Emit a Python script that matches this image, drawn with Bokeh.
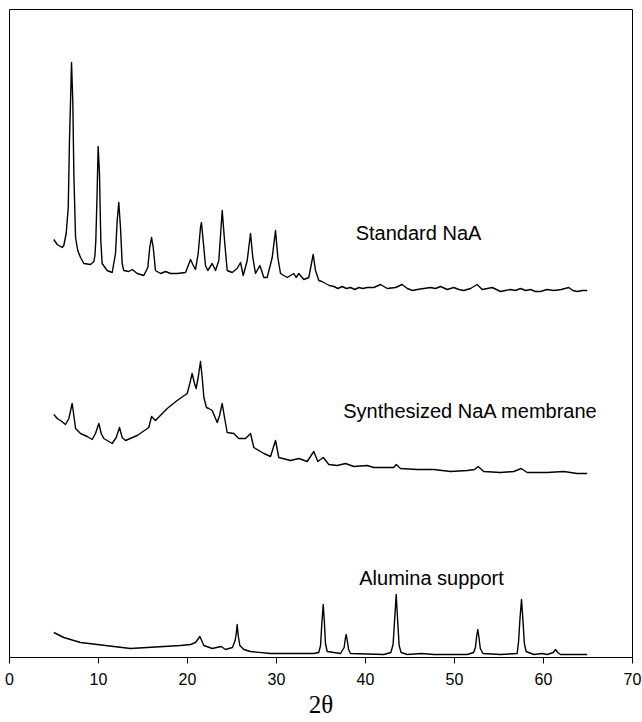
from bokeh.plotting import figure
from bokeh.models import Range1d, Label, FixedTicker
from bokeh.embed import file_html
from bokeh.resources import INLINE

# XRD patterns (2-theta in degrees, intensity in arbitrary units, traces stacked)
std_theta = [4.98, 5.36, 5.92, 6.10, 6.37, 6.60, 6.74, 6.89, 6.97, 7.11, 7.23, 7.42, 7.67, 7.98,
             8.35, 9.10, 9.48, 9.60, 9.70, 9.85, 9.96, 10.11, 10.26, 10.41, 10.97, 11.54, 11.91, 12.10,
             12.28, 12.47, 12.66, 12.84, 13.40, 13.79, 14.35, 15.09, 15.54, 15.76, 15.96, 16.15,
             16.40, 16.97, 17.53, 18.09, 18.84, 19.78, 20.34, 20.60, 20.90, 21.20, 21.46, 21.57,
             21.76, 22.02, 22.28, 22.78, 23.15, 23.52, 23.90, 24.16, 24.46, 25.02, 25.58, 25.96,
             26.26, 26.71, 27.08, 27.34, 27.64, 28.13, 28.58, 28.95, 29.52, 29.89, 30.15, 30.45,
             31.20, 31.94, 32.21, 32.51, 33.07, 33.63, 34.12, 34.38, 34.76, 35.10, 35.51, 35.95,
             36.44, 36.90, 37.38, 37.85, 38.31, 38.80, 39.25, 39.70, 40.19, 40.93, 41.69, 42.44,
             43.37, 44.12, 44.69, 45.30, 45.81, 46.55, 47.30, 47.87, 48.43, 49.18, 49.92, 50.50,
             51.04, 51.80, 52.55, 53.11, 53.70, 54.24, 54.70, 55.17, 55.70, 56.29, 56.85, 57.42,
             58.00, 58.54, 59.10, 59.66, 60.40, 61.16, 62.00, 62.84, 63.30, 63.79, 64.35, 64.91]
std_counts = [418, 413, 410, 412, 424, 450, 517, 567, 595, 557, 484, 420, 407, 400,
              394, 393, 396, 402, 417, 467, 511, 484, 417, 394, 387, 385, 404, 437,
              455, 430, 394, 387, 386, 388, 384, 382, 390, 410, 420, 410,
              387, 384, 386, 384, 384, 385, 398, 393, 388, 404, 430, 435,
              417, 392, 387, 394, 387, 397, 447, 417, 387, 385, 389, 395,
              382, 397, 424, 400, 384, 392, 380, 380, 400, 427, 400, 384,
              380, 384, 380, 384, 378, 380, 403, 387, 377, 376, 374, 372,
              371, 369, 371, 369, 370, 368, 370, 369, 370, 370, 373, 369,
              370, 373, 369, 367, 368, 369, 370, 369, 371, 368, 370, 368,
              367, 369, 373, 368, 369, 370, 368, 366, 367, 368, 367, 369,
              367, 368, 366, 366, 368, 367, 368, 370, 367, 366, 367, 367]

mem_theta = [4.98, 5.36, 5.73, 6.29, 6.67, 7.04, 7.23, 7.42, 7.98, 8.73, 9.29, 9.66, 10.04,
             10.30, 10.60, 11.54, 11.99, 12.36, 12.66, 13.03, 14.35, 15.65, 15.96, 16.40, 17.72,
             18.84, 19.97, 20.26, 20.52, 20.79, 20.97, 21.20, 21.46, 21.65, 21.84, 22.13, 22.39,
             22.78, 23.34, 23.60, 23.90, 24.16, 24.46, 25.20, 25.76, 26.52, 27.08, 27.45, 28.58,
             29.33, 29.89, 30.26, 31.57, 32.51, 33.45, 34.19, 34.64, 35.25, 35.88, 36.82, 37.75,
             38.69, 40.19, 40.93, 42.44, 43.18, 43.45, 43.93, 45.81, 47.67, 49.55, 51.43, 52.25,
             52.66, 53.29, 55.17, 56.66, 57.49, 58.17, 60.42, 62.28, 63.79, 64.91]
mem_counts = [243, 239, 237, 233, 239, 254, 242, 229, 224, 221, 218, 224, 234,
              224, 219, 214, 220, 230, 220, 217, 222, 230, 241, 237, 249,
              257, 264, 274, 284, 274, 269, 280, 296, 280, 260, 250, 249,
              247, 235, 242, 254, 240, 225, 224, 219, 219, 224, 210, 204,
              201, 217, 200, 197, 199, 196, 206, 196, 200, 193, 192, 194,
              191, 192, 190, 190, 190, 193, 189, 188, 188, 186, 187, 188,
              191, 186, 185, 186, 189, 185, 185, 186, 184, 184]

sup_theta = [4.98, 6.10, 7.98, 9.85, 11.72, 13.60, 15.47, 17.34, 19.21, 20.34, 20.90, 21.39,
             21.84, 22.78, 23.79, 24.27, 25.05, 25.35, 25.48, 25.58, 25.70, 25.88, 26.33, 27.08,
             29.33, 32.33, 34.19, 34.75, 34.95, 35.10, 35.25, 35.39, 35.50, 35.70, 37.19, 37.60,
             37.72, 37.83, 37.95, 38.10, 38.31, 42.06, 42.85, 43.10, 43.26, 43.45, 43.63, 43.78,
             44.00, 44.69, 46.26, 47.67, 51.43, 52.15, 52.35, 52.50, 52.62, 52.75, 52.90, 53.20,
             55.17, 57.04, 57.20, 57.35, 57.53, 57.70, 57.85, 58.05, 58.91, 59.85, 60.42, 61.10,
             61.35, 61.60, 61.91, 64.91]
sup_counts = [25, 20, 15, 13, 11, 9, 10, 11, 12, 13, 15, 21,
              12, 9, 11, 8, 10, 17, 24, 33, 22, 12, 8, 6,
              4, 4, 4, 5, 12, 35, 53, 34, 14, 6, 4, 10,
              18, 23, 17, 8, 4, 3, 5, 13, 36, 63, 34, 12,
              5, 3, 4, 3, 3, 5, 10, 22, 28, 20, 9, 4,
              3, 4, 16, 38, 58, 36, 14, 6, 3, 4, 3, 5,
              8, 5, 3, 3]

x_ticks = [0, 10, 20, 30, 40, 50, 60, 70]

trace_labels = ["Standard NaA", "Synthesized NaA membrane", "Alumina support"]
label_x = [38.9, 37.5, 39.3]
label_y = [425, 247, 80]

p = figure(width=642, height=722, output_backend="svg", toolbar_location=None,
           x_range=Range1d(0, 70), y_range=Range1d(0, 648),
           min_border_left=9, min_border_right=10, min_border_top=9, min_border_bottom=65)

p.background_fill_color = "white"
p.border_fill_color = "white"
p.outline_line_color = "black"
p.outline_line_width = 1
p.xgrid.visible = False
p.ygrid.visible = False
p.yaxis.visible = False

ax = p.xaxis[0]
ax.ticker = FixedTicker(ticks=x_ticks)
ax.minor_tick_line_color = None
ax.major_tick_in = 0
ax.major_tick_out = 6
ax.axis_line_color = "black"
ax.major_tick_line_color = "black"
ax.major_label_text_font = "Liberation Sans"
ax.major_label_text_font_size = "16px"
ax.major_label_text_color = "black"
ax.major_label_standoff = 9
ax.axis_label = "2θ"
ax.axis_label_text_font = "Liberation Serif"
ax.axis_label_text_font_style = "normal"
ax.axis_label_text_font_size = "25px"
ax.axis_label_text_color = "black"
ax.axis_label_standoff = 3

for th, cnt in [(std_theta, std_counts), (mem_theta, mem_counts), (sup_theta, sup_counts)]:
    p.line(th, cnt, line_color="black", line_width=1.4, line_join="round")

for txt, lx, ly in zip(trace_labels, label_x, label_y):
    p.add_layout(Label(x=lx, y=ly, text=txt, text_font="Liberation Sans",
                       text_font_size="20px", text_color="black",
                       text_baseline="middle", text_align="left"))

open("out.html", "w").write(file_html(p, INLINE))
